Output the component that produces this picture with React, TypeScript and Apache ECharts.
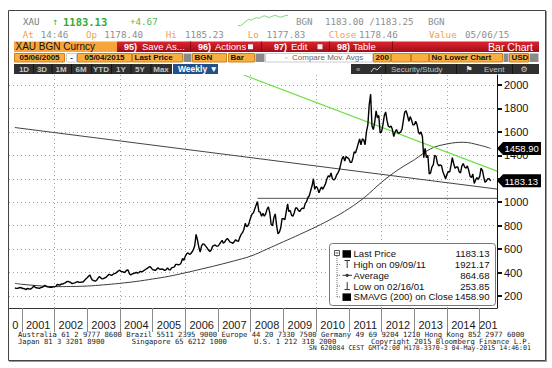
import React, { useEffect, useRef } from "react";
import * as echarts from "echarts";

// ---------------- data ----------------
// semi-monthly gold prices (1st / 16th of each month), first point 2000-10-16
const gold2000 = [268, 265, 266, 270, 272];
const gold2001 = [268, 264, 262, 254, 264, 262, 258, 262, 272, 288, 272, 270, 267, 266, 272, 274, 282, 290, 283, 278, 276, 275, 274, 278];
const gold2002 = [280, 282, 298, 296, 292, 302, 302, 308, 312, 322, 325, 320, 315, 305, 310, 312, 318, 322, 316, 316, 320, 318, 332, 345];
const gold2003 = [356, 368, 380, 350, 336, 332, 326, 334, 350, 366, 356, 346, 348, 355, 360, 372, 385, 380, 375, 385, 390, 395, 405, 415];
const gold2004 = [420, 408, 408, 400, 405, 420, 422, 392, 380, 388, 392, 396, 402, 395, 400, 410, 405, 412, 420, 428, 435, 444, 452, 440];
const gold2005 = [425, 422, 418, 430, 440, 430, 428, 432, 425, 418, 425, 440, 425, 422, 440, 444, 448, 470, 470, 466, 470, 485, 520, 505];
const gold2006 = [540, 560, 568, 555, 560, 575, 595, 630, 725, 680, 615, 575, 628, 645, 640, 625, 610, 592, 580, 590, 625, 630, 635, 625];
const gold2007 = [625, 640, 660, 675, 650, 660, 680, 690, 675, 660, 655, 650, 662, 680, 670, 665, 700, 725, 740, 765, 820, 790, 800, 830];
const gold2008 = [870, 900, 910, 945, 975, 1005, 920, 915, 880, 905, 880, 900, 940, 960, 910, 810, 800, 870, 900, 800, 730, 745, 780, 860];
const gold2009 = [860, 850, 920, 985, 920, 930, 890, 880, 910, 950, 950, 930, 920, 940, 950, 945, 990, 1005, 1040, 1055, 1100, 1140, 1200, 1110];
const gold2010 = [1135, 1120, 1080, 1110, 1130, 1110, 1135, 1160, 1200, 1225, 1215, 1250, 1200, 1190, 1200, 1230, 1250, 1275, 1320, 1370, 1390, 1350, 1390, 1380];
const gold2011 = [1370, 1340, 1340, 1380, 1430, 1420, 1460, 1500, 1540, 1490, 1540, 1530, 1490, 1600, 1660, 1830, 1921.17, 1650, 1620, 1680, 1780, 1720, 1740, 1590];
const gold2012 = [1600, 1660, 1740, 1770, 1700, 1650, 1640, 1650, 1620, 1560, 1600, 1620, 1590, 1590, 1600, 1620, 1700, 1770, 1780, 1740, 1690, 1730, 1700, 1660];
const gold2013 = [1660, 1690, 1660, 1600, 1580, 1600, 1560, 1380, 1460, 1380, 1400, 1240, 1250, 1300, 1320, 1400, 1390, 1330, 1310, 1320, 1310, 1260, 1230, 1200];
const gold2014 = [1240, 1260, 1260, 1320, 1380, 1330, 1290, 1300, 1300, 1260, 1250, 1310, 1330, 1300, 1290, 1310, 1270, 1220, 1210, 1240, 1160, 1190, 1210, 1195];
const gold2015 = [1220, 1290, 1270, 1210, 1170, 1180, 1200, 1200, 1183.13];
const goldByYear = [gold2000, gold2001, gold2002, gold2003, gold2004, gold2005, gold2006, gold2007, gold2008, gold2009, gold2010, gold2011, gold2012, gold2013, gold2014, gold2015];
const lastPointDate = "2015-05-04";

// 200-week simple moving average
const smaDates = ["2000-10-16", "2001-01-01", "2001-07-01", "2002-01-01", "2002-07-01", "2003-01-01", "2003-07-01", "2004-01-01", "2004-07-01", "2005-01-01", "2005-07-01", "2006-01-01", "2006-07-01", "2007-01-01", "2007-07-01", "2008-01-01", "2008-07-01", "2009-01-01", "2009-07-01", "2010-01-01", "2010-07-01", "2011-01-01", "2011-07-01", "2012-01-01", "2012-07-01", "2013-01-01", "2013-07-01", "2014-01-01", "2014-07-01", "2015-01-01", "2015-05-04"];
const smaValues = [308, 300, 288, 280, 281, 285, 295, 308, 324, 345, 368, 398, 430, 464, 500, 540, 600, 663, 725, 791, 862, 945, 1045, 1170, 1275, 1362, 1455, 1497, 1511, 1486, 1458.9];

// drawn lines
const greenTrend = [["2007-10-15", 2085], ["2015-07-13", 1265]];
const grayTrend = [["2000-10-15", 1637], ["2015-07-13", 1112]];
const level2008 = [["2008-03-17", 1033], ["2015-07-13", 1033]];

// intraday sparkline in the header
const sparkData = [1178.4, 1178.2, 1179.6, 1181.2, 1182.4, 1181.8, 1182.9, 1183.6, 1183.1, 1184.2, 1184.8, 1184.1, 1183.7, 1184.5, 1185.0, 1184.6, 1183.8, 1184.3, 1184.9, 1185.2];

// axes
const axisStart = "2000-08-11";
const axisEnd = "2015-07-13";
const yMin = 97.6;
const yMax = 2085;
const yTicks = [200, 400, 600, 800, 1000, 1200, 1400, 1600, 1800, 2000];
const yLabels = [200, 400, 600, 800, 1000, 1400, 1600, 1800, 2000]; // 1200 is hidden under the last-price tag
const yearLabels = [2000, 2001, 2002, 2003, 2004, 2005, 2006, 2007, 2008, 2009, 2010, 2011, 2012, 2013, 2014, 2015];
const yearBoundaries = [2001, 2002, 2003, 2004, 2005, 2006, 2007, 2008, 2009, 2010, 2011, 2012, 2013, 2014, 2015];
const gridYears = [2002, 2004, 2006, 2008, 2010, 2012, 2014];

// legend values
const lastPrice = 1183.13;
const highDate = "09/09/11";
const highValue = 1921.17;
const avgValue = 864.68;
const lowDate = "02/16/01";
const lowValue = 253.85;
const smaLast = 1458.9;

// ---------------- helpers ----------------
const F_MONO = "DejaVu Sans Mono";
const F_SANS = "Liberation Sans";
const F_NARROW = "Liberation Sans Narrow, Liberation Sans, sans-serif";

const ts = (s: string) => {
  const [y, m, d] = s.split("-").map(Number);
  return new Date(y, m - 1, d).getTime();
};
const tMin = ts(axisStart);
const tMax = ts(axisEnd);

function buildPrice(): [number, number][] {
  const out: [number, number][] = [];
  let y = 2000, m = 9, d = 16;
  goldByYear.flat().forEach((v) => {
    out.push([new Date(y, m, d).getTime(), v]);
    if (d === 1) d = 16;
    else {
      d = 1;
      m++;
      if (m > 11) { m = 0; y++; }
    }
  });
  out[out.length - 1][0] = ts(lastPointDate);
  return out;
}

type F = { s: number; f: string; w?: string; lh?: number };
const txt = (x: number, y: number, text: string, font: F, fill: string, align = "left", z = 30) => ({
  type: "text", x, y, z, silent: true,
  style: {
    text, fill, fontSize: font.s, fontFamily: font.f, fontWeight: font.w || "normal",
    lineHeight: font.lh,
    textAlign: align, textVerticalAlign: "middle", align, verticalAlign: "middle",
  },
});
const rect = (x: number, y: number, w: number, h: number, fill: any, stroke?: string, z = 25, r = 0) => ({
  type: "rect", z, silent: true,
  shape: { x, y, width: w, height: h, r },
  style: { fill, stroke: stroke || "none", lineWidth: stroke ? 1 : 0 },
});
const ln = (x1: number, y1: number, x2: number, y2: number, stroke: string, w = 1, z = 30, dash?: number[]) => ({
  type: "line", z, silent: true,
  shape: { x1, y1, x2, y2 },
  style: { stroke, lineWidth: w, lineDash: dash },
});

function buildGraphics(ySma: number, yLast: number) {
  const g: any[] = [];
  const gray = "#8e8e8e";
  const orange = "#f0a050";
  const green = "#44bb44";
  const mono: F = { s: 9.2, f: F_MONO };

  // frame
  g.push({ type: "rect", z: 40, silent: true, shape: { x: 8.5, y: 10.5, width: 537, height: 350 }, style: { fill: "none", stroke: "#444", lineWidth: 1 } });
  g.push(ln(546.5, 11, 546.5, 362, "#999", 1, 40));
  g.push(ln(9, 361.5, 547, 361.5, "#999", 1, 40));

  // row 1
  g.push(txt(23, 21.7, "XAU", mono, "#777"));
  g.push(txt(52, 21.7, "↑", { s: 10, f: F_MONO }, green));
  g.push(txt(63, 21.7, "1183.13", { s: 10.5, f: F_MONO, w: "bold" }, "#33aa33"));
  g.push(txt(130, 21.7, "+4.67", mono, "#55bb55"));
  g.push(txt(296, 21.7, "BGN", mono, gray));
  g.push(txt(325, 21.7, "1183.00 /1183.25", mono, gray));
  g.push(txt(428, 21.7, "BGN", mono, gray));

  // row 2
  const r2 = 34;
  const row2: [string, number, string][] = [["At", 22.7, orange], ["14:46", 40.7, gray], ["Op", 86, orange], ["1178.40", 104.3, gray], ["Hi", 165.7, orange], ["1185.23", 185, gray],
   ["Lo", 247.7, orange], ["1177.83", 266.5, gray], ["Close", 328.7, orange], ["1178.46", 359, gray], ["Value", 429, orange], ["05/06/15", 465, gray]];
  row2.forEach(([t, x, c]) => g.push(txt(x, r2, t, mono, c)));

  // row 3 : orange security box + red menu bar
  const r3y = 41.5, r3h = 10.5, r3c = r3y + r3h / 2;
  g.push(rect(14, r3y, 103, r3h, "#f7a53a"));
  g.push(txt(15.5, r3c, "XAU BGN Curncy", { s: 10, f: F_SANS }, "#111"));
  g.push(rect(117, r3y, 422, r3h, { type: "linear", x: 0, y: 0, x2: 0, y2: 1, colorStops: [{ offset: 0, color: "#dc2430" }, { offset: 1, color: "#a40c16" }] }));
  [190, 261, 329, 392].forEach((x) => g.push(ln(x + 0.5, r3y, x + 0.5, r3y + r3h, "#8c0a12", 1, 31)));
  const wb: F = { s: 9, f: F_SANS, w: "bold" }, wn: F = { s: 9.5, f: F_SANS };
  g.push(txt(124, r3c, "95)", wb, "#fff"));
  g.push(txt(142, r3c, "Save As...", wn, "#fff"));
  g.push(txt(198, r3c, "96)", wb, "#fff"));
  g.push(txt(215, r3c, "Actions", wn, "#fff"));
  g.push(rect(248, r3c - 2.5, 5, 5, "#f2f2f2", undefined, 31));
  g.push(txt(274, r3c, "97)", wb, "#fff"));
  g.push(txt(291, r3c, "Edit", wn, "#fff"));
  g.push(rect(317.5, r3c - 2.5, 5, 5, "#f2f2f2", undefined, 31));
  g.push(txt(337, r3c, "98)", wb, "#fff"));
  g.push(txt(353, r3c, "Table", wn, "#fff"));
  g.push(txt(533, r3c, "Bar Chart", { s: 10.5, f: F_SANS }, "#fff", "right"));

  // row 4 : parameter boxes
  const r4y = 53, r4h = 9.5, r4c = r4y + r4h / 2;
  const ob = "#f9ae40", obStroke = "#c98320";
  const f8b: F = { s: 8, f: F_SANS, w: "bold" };
  const boxes: [number, number, string, string, string?][] = [
    [14, 65, ob, "05/06/2005", "center"], [66, 77, "#fff", "-", "center"], [77, 132, ob, "05/04/2015", "center"],
    [132, 183, ob, "Last Price"], [183, 192, "#8a8a8a", ""], [192, 227, ob, "BGN"], [228, 255, ob, "Bar"], [255, 265, "#8a8a8a", ""],
    [265, 373, "#fff", ""], [373, 391, ob, "200"], [391, 411, ob, ""], [411, 429, ob, ""], [429, 503, ob, "No Lower Chart"],
    [503, 509, "#8a8a8a", ""], [509, 529, ob, "USD"], [529, 539, "#8a8a8a", ""],
  ];
  boxes.forEach(([x1, x2, fill, t, al]) => {
    g.push(rect(x1 + 0.5, r4y + 0.5, x2 - x1 - 1, r4h - 1, fill, fill === ob ? obStroke : fill === "#fff" ? "#ccc" : undefined));
    if (t) {
      if (al === "center") g.push(txt((x1 + x2) / 2, r4c, t, f8b, "#111", "center"));
      else g.push(txt(x1 + 2.5, r4c, t, f8b, "#111"));
    }
  });
  g.push(txt(292, r4c, "Compare Mov. Avgs", { s: 8, f: F_SANS }, "#666"));
  g.push(txt(285, r4c, "▫", { s: 7, f: F_SANS }, "#999"));

  // row 5 : toolbar
  const r5y = 64, r5h = 10, r5c = r5y + r5h / 2;
  g.push(rect(14, r5y, 158, r5h, "#303030"));
  const tb: F = { s: 8, f: F_SANS, w: "bold" };
  const tbItems: [string, number][] = [["1D", 24], ["3D", 42], ["1M", 61], ["6M", 81], ["YTD", 101], ["1Y", 121], ["5Y", 140], ["Max", 161]];
  tbItems.forEach(([t, x], i) => {
    g.push(txt(x, r5c, t, tb, "#c4c4c4", "center"));
    if (i < tbItems.length - 1) {
      const nx = (x + tbItems[i + 1][1]) / 2;
      g.push(ln(nx + 0.5, r5y, nx + 0.5, r5y + r5h, "#151515", 1, 31));
    }
  });
  g.push(rect(173, r5y, 45, r5h, "#22508a"));
  g.push(txt(178, r5c, "Weekly ▼", { s: 8.5, f: F_SANS, w: "bold" }, "#fff"));
  g.push(rect(351, r5y, 188, r5h, "#303030"));
  g.push(txt(356, r5c, "«", { s: 8, f: F_SANS }, "#bbb"));
  g.push({ type: "polyline", z: 31, silent: true, shape: { points: [[371, 72], [374, 68], [377, 70], [381, 66]] }, style: { stroke: "#ccc", lineWidth: 1, fill: "none" } });
  g.push(txt(391, r5c, "Security/Study", { s: 8, f: F_SANS }, "#c4c4c4"));
  [385, 456, 512].forEach((x) => g.push(ln(x + 0.5, r5y, x + 0.5, r5y + r5h, "#151515", 1, 31)));
  g.push(txt(469, r5c, "⚑", { s: 8, f: "DejaVu Sans" }, "#e8e8e8", "center"));
  g.push(txt(484, r5c, "Event", { s: 8, f: F_SANS }, "#c4c4c4"));
  g.push(txt(524, r5c, "⚙", { s: 8, f: "DejaVu Sans" }, "#d0d0d0", "center"));

  // legend box
  g.push(rect(329.5, 243.5, 166, 62, "#fff", "#777", 35, 3));
  const rows = [253.7, 264.5, 275.3, 286.1, 296.9];
  const lf: F = { s: 9.6, f: F_SANS };
  g.push(rect(334.5, 250.5, 5, 5, "#fff", "#555", 36));
  g.push(ln(335.5, 253, 338.5, 253, "#555", 1, 37));
  g.push(ln(337, 256, 337, rows[4], "#777", 1, 36, [1, 1]));
  rows.slice(1).forEach((y) => g.push(ln(337, y, 341, y, "#777", 1, 36, [1, 1])));
  g.push(rect(342.5, rows[0] - 3.5, 8.5, 7.5, "#000", undefined, 36));
  g.push(ln(344.5, rows[1] - 4, 350, rows[1] - 4, "#333", 1, 36));
  g.push(ln(347.2, rows[1] - 4, 347.2, rows[1] + 3.5, "#333", 1, 36));
  g.push(ln(342.5, rows[2], 352, rows[2], "#333", 1, 36));
  g.push({ type: "circle", z: 36, silent: true, shape: { cx: 347.2, cy: rows[2], r: 1.6 }, style: { fill: "#333" } });
  g.push(ln(347.2, rows[3] - 4, 347.2, rows[3] + 3.5, "#333", 1, 36));
  g.push(ln(344.5, rows[3] + 3.5, 350, rows[3] + 3.5, "#333", 1, 36));
  g.push(rect(342.5, rows[4] - 3.5, 8.5, 7.5, "#000", undefined, 36));
  const legendRows: [string, string][] = [
    ["Last Price", lastPrice.toFixed(2)],
    [`High on ${highDate}`, highValue.toFixed(2)],
    ["Average", avgValue.toFixed(2)],
    [`Low on ${lowDate}`, lowValue.toFixed(2)],
    ["SMAVG (200) on Close", smaLast.toFixed(2)],
  ];
  legendRows.forEach(([l, v], i) => {
    g.push(txt(353.5, rows[i], l, lf, "#111", "left", 37));
    g.push(txt(489.5, rows[i], v, lf, "#111", "right", 37));
  });

  // value tags on the price axis
  const tag = (y: number, v: number) => {
    g.push({ type: "polygon", z: 38, silent: true, shape: { points: [[497, y], [503, y - 6.5], [541, y - 6.5], [541, y + 6.5], [503, y + 6.5]] }, style: { fill: "#000" } });
    g.push(txt(504.5, y + 0.5, v.toFixed(2), { s: 9.5, f: F_SANS }, "#fff", "left", 39));
  };
  tag(ySma, smaLast);
  tag(yLast, lastPrice);

  // footer
  const ff: F = { s: 7.2, f: F_MONO, lh: 6.8 };
  g.push(txt(18, 334.3, "Australia 61 2 9777 8600 Brazil 5511 2395 9000 Europe 44 20 7330 7500 Germany 49 69 9204 1210 Hong Kong 852 2977 6000", ff, "#222"));
  g.push(txt(18, 341.4, "Japan 81 3 3201 8900", ff, "#222"));
  g.push(txt(131.7, 341.4, "Singapore 65 6212 1000", ff, "#222"));
  g.push(txt(254, 341.4, "U.S. 1 212 318 2000", ff, "#222"));
  g.push(txt(531, 341.4, "Copyright 2015 Bloomberg Finance L.P.", ff, "#222", "right"));
  g.push(txt(531, 348.4, "SN 620084 CEST GMT+2:00 H178-3370-3 04-May-2015 14:46:01", { s: 6.6, f: F_MONO, lh: 6.6 }, "#222", "right"));
  return g;
}

function buildOption() {
  const price = buildPrice();
  const sma = smaDates.map((d, i) => [ts(d), smaValues[i]]);
  const toPts = (arr: any[]) => arr.map(([d, v]) => [ts(d), v]);
  const boundaryTs = yearBoundaries.map((y) => new Date(y, 0, 1).getTime());
  const labelTs = yearLabels.map((y) => {
    const a = Math.max(new Date(y, 0, 1).getTime(), tMin);
    const b = Math.min(new Date(y + 1, 0, 1).getTime(), tMax);
    return (a + b) / 2;
  });
  const gridTs = gridYears.map((y) => new Date(y, 0, 1).getTime());
  const dotted = { color: "#a0a0a0", type: [1, 3], width: 1 };

  return {
    animation: false,
    backgroundColor: "#ffffff",
    tooltip: { show: false },
    grid: [
      { left: 9, right: 55, top: 75, bottom: 60, outerBoundsMode: "none", containLabel: false },
      { left: 238, top: 14, width: 50, height: 12, outerBoundsMode: "none", containLabel: false },
    ],
    xAxis: [
      {
        type: "value", gridIndex: 0, min: tMin, max: tMax,
        axisLine: { show: true, onZero: false, lineStyle: { color: "#333", width: 1 } },
        axisTick: { show: true, customValues: boundaryTs, length: 24, lineStyle: { color: "#8a8a8a", width: 1 } },
        axisLabel: {
          show: true, customValues: labelTs, margin: 11, color: "#1a1a1a", fontSize: 11, fontFamily: F_NARROW,
          hideOverlap: false,
          formatter: (v: number) => {
            const y = new Date(v).getFullYear();
            return y === 2000 ? "0" : y === 2015 ? "201" : String(y);
          },
        },
        splitLine: { show: false },
      },
      {
        type: "value", gridIndex: 0, min: tMin, max: tMax,
        axisLine: { show: false }, axisLabel: { show: false },
        axisTick: { show: false, customValues: gridTs },
        splitLine: { show: true, lineStyle: dotted },
      },
      { type: "category", gridIndex: 1, show: false, boundaryGap: false, data: sparkData.map((_, i) => String(i)) },
    ],
    yAxis: [
      {
        type: "value", gridIndex: 0, position: "right", min: yMin, max: yMax,
        axisLine: { show: true, onZero: false, lineStyle: { color: "#111", width: 1 } },
        axisTick: { show: true, customValues: yTicks, length: 5, inside: false, lineStyle: { color: "#111", width: 2 } },
        axisLabel: { show: true, customValues: yLabels, margin: 7, color: "#111", fontSize: 11, fontFamily: F_NARROW, formatter: (v: number) => String(v) },
        splitLine: { show: true, lineStyle: dotted },
      },
      { type: "value", gridIndex: 1, show: false, scale: true },
    ],
    series: [
      { type: "line", name: "SMAVG (200)", xAxisIndex: 0, yAxisIndex: 0, data: sma, smooth: 0.4, showSymbol: false, silent: true, lineStyle: { color: "#3c3c3c", width: 1 }, z: 2 },
      { type: "line", name: "trend", xAxisIndex: 0, yAxisIndex: 0, data: toPts(grayTrend), showSymbol: false, silent: true, lineStyle: { color: "#444", width: 1 }, z: 2 },
      { type: "line", name: "level", xAxisIndex: 0, yAxisIndex: 0, data: toPts(level2008), showSymbol: false, silent: true, lineStyle: { color: "#555", width: 1 }, z: 2 },
      { type: "line", name: "green", xAxisIndex: 0, yAxisIndex: 0, data: toPts(greenTrend), showSymbol: false, silent: true, lineStyle: { color: "#6ee04a", width: 1.2 }, z: 3 },
      { type: "line", name: "Last Price", xAxisIndex: 0, yAxisIndex: 0, data: price, showSymbol: false, silent: true, lineStyle: { color: "#000", width: 1.4 }, z: 5 },
      { type: "line", name: "spark", xAxisIndex: 2, yAxisIndex: 1, data: sparkData, showSymbol: false, silent: true, lineStyle: { color: "#5ccc5c", width: 0.8 }, z: 5 },
    ],
  };
}

export default function App() {
  const ref = useRef<HTMLDivElement>(null);
  useEffect(() => {
    document.body.style.margin = "0";
    document.body.style.padding = "0";
    if (!ref.current) return;
    const chart = echarts.init(ref.current, undefined, { renderer: "svg" });
    chart.setOption(buildOption() as any);
    const ySma = chart.convertToPixel({ yAxisIndex: 0 }, smaLast) as number;
    const yLast = chart.convertToPixel({ yAxisIndex: 0 }, lastPrice) as number;
    chart.setOption({ graphic: buildGraphics(ySma, yLast) } as any);
    return () => chart.dispose();
  }, []);
  return <div ref={ref} style={{ position: "relative", width: 552, height: 368, background: "#fff", overflow: "hidden" }} />;
}
